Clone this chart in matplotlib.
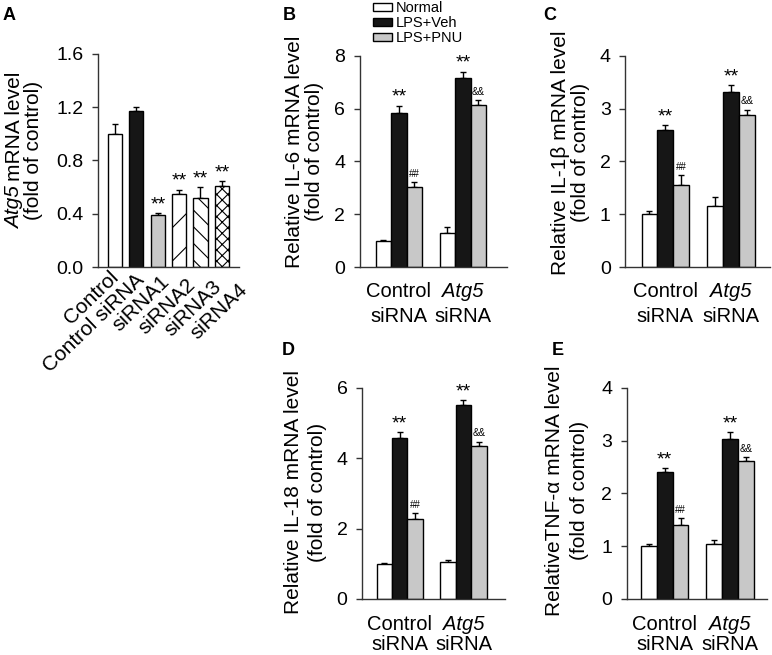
import numpy as np
import matplotlib
matplotlib.use('Agg')
import matplotlib.pyplot as plt
from matplotlib.patches import Patch

plt.rcParams['font.family'] = ['Liberation Sans', 'DejaVu Sans']
plt.rcParams['hatch.linewidth'] = 0.8

# ---- data ----
a_labels = ['Control', 'Control siRNA', 'siRNA1', 'siRNA2', 'siRNA3', 'siRNA4']
a_vals = [1.00, 1.17, 0.39, 0.55, 0.52, 0.61]
a_err = [0.07, 0.03, 0.015, 0.03, 0.08, 0.035]
a_stars = ['', '', '**', '**', '**', '**']

groups = ['Control', 'Atg5']
series = ['Normal', 'LPS+Veh', 'LPS+PNU']

il6_vals = [[1.00, 1.28], [5.85, 7.15], [3.02, 6.12]]
il6_err = [[0.02, 0.25], [0.25, 0.25], [0.20, 0.20]]

il1b_vals = [[1.00, 1.15], [2.60, 3.32], [1.55, 2.88]]
il1b_err = [[0.07, 0.17], [0.08, 0.12], [0.20, 0.10]]

il18_vals = [[1.00, 1.05], [4.58, 5.52], [2.28, 4.35]]
il18_err = [[0.02, 0.05], [0.15, 0.12], [0.15, 0.12]]

tnf_vals = [[1.00, 1.04], [2.40, 3.03], [1.40, 2.62]]
tnf_err = [[0.05, 0.07], [0.08, 0.13], [0.13, 0.07]]

colors = ['white', '#161616', '#c8c8c8']
axcol = '#333333'
LBL = 15      # y label size
TCK = 14      # tick label size
PX = 0.72     # px -> pt at dpi 100

fig = plt.figure(figsize=(7.72, 6.55), dpi=100)
rend = fig.canvas.get_renderer()

def textw(s, **kw):
    t = fig.text(0, 0, s, **kw)
    w = t.get_window_extent(rend).width
    t.remove()
    return w

def style(ax):
    for s in ['top', 'right']:
        ax.spines[s].set_visible(False)
    for s in ['left', 'bottom']:
        ax.spines[s].set_color(axcol)
        ax.spines[s].set_linewidth(1.0)
    ax.tick_params(axis='y', direction='out', length=4.5, width=1.0,
                   color=axcol, labelsize=TCK, pad=6)
    ax.tick_params(axis='x', length=0)

def ylab(ax, dx, dy, parts1, line2):
    # parts1: list of (text, italic) drawn along one rotated line
    ws = [textw(p, fontsize=LBL, style='italic' if it else 'normal')
          for p, it in parts1]
    sp = textw('a a', fontsize=LBL) - textw('aa', fontsize=LBL)
    total = sum(ws) + sp * (len(ws) - 1)
    pos = -total / 2
    for (p, it), w in zip(parts1, ws):
        ax.annotate(p, xy=(0, 0.5), xycoords='axes fraction',
                    xytext=(dx[0] * PX, (dy + pos + w / 2) * PX),
                    textcoords='offset points', rotation=90,
                    ha='center', va='center', fontsize=LBL,
                    style='italic' if it else 'normal')
        pos += w + sp
    ax.annotate(line2, xy=(0, 0.5), xycoords='axes fraction',
                xytext=(dx[1] * PX, dy * PX), textcoords='offset points',
                rotation=90, ha='center', va='center', fontsize=LBL)

# ---- panel A ----
axA = fig.add_axes([0.127, 0.592, 0.183, 0.326])
xa = np.arange(len(a_vals))
a_fill = ['white', '#161616', '#c8c8c8', 'white', 'white', 'white']
a_hatch = [None, None, None, '/', '\\\\', 'xxx']
for i in range(len(a_vals)):
    axA.bar(xa[i], a_vals[i], 0.66, color=a_fill[i], edgecolor='black',
            linewidth=1.0, hatch=a_hatch[i], zorder=2)
    axA.errorbar(xa[i], a_vals[i], yerr=[[0], [a_err[i]]], fmt='none',
                 ecolor='black', elinewidth=1.0, capsize=2.5, capthick=1.0, zorder=1)
    if a_stars[i]:
        axA.text(xa[i], a_vals[i] + a_err[i], a_stars[i], ha='center',
                 va='bottom', fontsize=14)
axA.set_xlim(-0.8, 5.82)
axA.set_ylim(0, 1.6)
axA.set_yticks([0, 0.4, 0.8, 1.2, 1.6])
axA.set_yticklabels(['0.0', '0.4', '0.8', '1.2', '1.6'])
style(axA)
axA.set_xticks(xa)
axA.set_xticklabels([])
# rotated category labels, right end anchored on the baseline
for i, lab in enumerate(a_labels):
    axA.annotate(lab, xy=(xa[i], 0), xycoords=('data', 'axes fraction'),
                 xytext=((4 + 4.5 * i) * PX, -(11 + 2.5 * i) * PX),
                 textcoords='offset points', rotation=44,
                 rotation_mode='anchor', ha='right', va='baseline',
                 fontsize=15)
ylab(axA, (-84, -65), 10, [('Atg5', True), ('mRNA level', False)],
     '(fold of control)')

# ---- grouped panels ----
def grouped(rect, vals, err, ylim, yticks, name, xlim, xoff, ypos, dy):
    ax = fig.add_axes(rect)
    w = 0.242
    xg = np.arange(len(groups))
    for k in range(3):
        xs = xg + (k - 1) * w
        ax.bar(xs, vals[k], w, color=colors[k], edgecolor='black',
               linewidth=1.0, zorder=2)
        ax.errorbar(xs, vals[k], yerr=[np.zeros(2), err[k]], fmt='none',
                    ecolor='black', elinewidth=1.0, capsize=2.5, capthick=1.0,
                    zorder=1)
    span = ylim[1] - ylim[0]
    for j in range(2):
        ax.text(xg[j], vals[1][j] + err[1][j], '**',
                ha='center', va='bottom', fontsize=14)
    marks = ['##', '&&']
    for j in range(2):
        ax.text(xg[j] + w, vals[2][j] + err[2][j] + 0.015 * span, marks[j],
                ha='center', va='bottom', fontsize=7)
    ax.set_xlim(*xlim)
    ax.set_ylim(*ylim)
    ax.set_yticks(yticks)
    style(ax)
    ax.set_xticks(xg)
    ax.set_xticklabels([])
    for j, g in enumerate(groups):
        ax.annotate(g, xy=(xg[j], 0), xycoords=('data', 'axes fraction'),
                    xytext=(0, -xoff[0] * PX), textcoords='offset points',
                    ha='center', va='center', fontsize=TCK + 0.5,
                    style='italic' if g == 'Atg5' else 'normal')
        ax.annotate('siRNA', xy=(xg[j], 0), xycoords=('data', 'axes fraction'),
                    xytext=(0, -xoff[1] * PX), textcoords='offset points',
                    ha='center', va='center', fontsize=TCK + 0.5)
    ylab(ax, ypos, dy, [(name, False)], '(fold of control)')
    return ax

axB = grouped([0.466, 0.592, 0.191, 0.323], il6_vals, il6_err, (0, 8),
              [0, 2, 4, 6, 8], 'Relative IL-6 mRNA level',
              (-0.61, 1.69), (24, 49), (-65, -45), 10)
axC = grouped([0.810, 0.592, 0.187, 0.323], il1b_vals, il1b_err, (0, 4),
              [0, 1, 2, 3, 4], 'Relative IL-1\u03b2 mRNA level',
              (-0.61, 1.59), (24, 49), (-65, -45), 9)
axD = grouped([0.469, 0.0855, 0.185, 0.3225], il18_vals, il18_err, (0, 6),
              [0, 2, 4, 6], 'Relative IL-18 mRNA level',
              (-0.59, 1.65), (26, 46), (-69, -45), 1)
axE = grouped([0.812, 0.0855, 0.182, 0.3225], tnf_vals, tnf_err, (0, 4),
              [0, 1, 2, 3, 4], 'RelativeTNF-\u03b1 mRNA level',
              (-0.58, 1.57), (26, 46), (-72, -47), 3)

# legend
handles = [Patch(facecolor=colors[k], edgecolor='black', linewidth=1.0)
           for k in range(3)]
fig.legend(handles, series, loc='upper left', bbox_to_anchor=(372 / 772, 1.0),
           frameon=False, fontsize=10.5, handlelength=1.3, handleheight=0.45,
           handletextpad=0.2, labelspacing=0.05, borderaxespad=0,
           borderpad=0.1)

# panel letters
for lab, x, y in [('A', 3, 7), ('B', 283, 7), ('C', 543, 7),
                  ('D', 282, 342), ('E', 552, 342)]:
    fig.text(x / 772, 1 - y / 655, lab, fontsize=13, fontweight='bold',
             ha='left', va='top')

fig.savefig('out.png', dpi=100)
